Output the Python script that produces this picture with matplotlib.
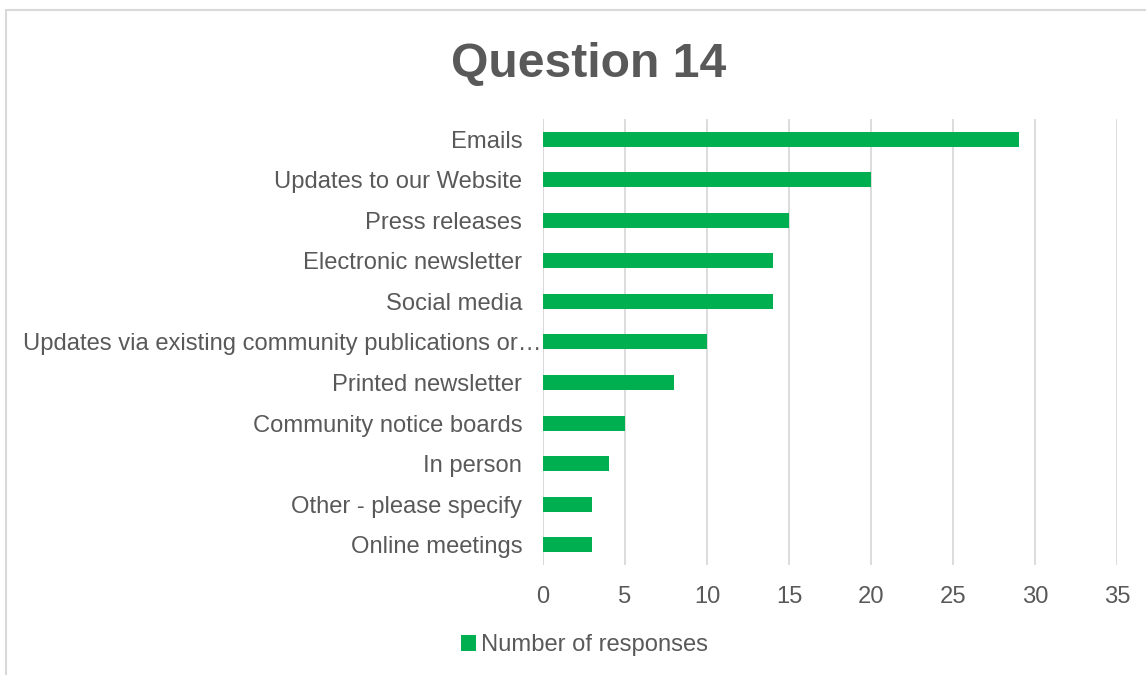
import matplotlib
matplotlib.use("Agg")
import matplotlib.pyplot as plt
import matplotlib.transforms as mtransforms
from matplotlib.patches import Rectangle

plt.rcParams['font.family'] = ['Liberation Sans', 'DejaVu Sans']

categories = [
    "Emails",
    "Updates to our Website",
    "Press releases",
    "Electronic newsletter",
    "Social media",
    "Updates via existing community publications or\u2026",
    "Printed newsletter",
    "Community notice boards",
    "In person",
    "Other - please specify",
    "Online meetings",
]
responses = [29, 20, 15, 14, 14, 10, 8, 5, 4, 3, 3]
x_ticks = [0, 5, 10, 15, 20, 25, 30, 35]

text_col = "#595959"
grid_col = "#D9D9D9"
bar_col = "#00B050"

fig = plt.figure(figsize=(11.46, 6.75), dpi=100)
ax = fig.add_axes([0.4738, 0.163, 0.5009, 0.661])

# chart border like the Excel chart area
fig.patches.append(Rectangle((0.0055, -0.01), 1.2, 0.9955, transform=fig.transFigure,
                             fill=False, edgecolor=grid_col, linewidth=1.5))

pos = list(range(len(categories)))[::-1]
ax.barh(pos, responses, height=0.37, color=bar_col, label="Number of responses", zorder=3)

ax.set_xlim(0, 35)
ax.set_ylim(-0.5, len(categories) - 0.5)
ax.set_xticks(x_ticks)
ax.set_xticklabels([str(t) for t in x_ticks])
ax.set_yticks(pos)
ax.set_yticklabels(categories)
ax.xaxis.grid(True, color=grid_col, linewidth=1.3, zorder=0)
ax.axvline(0, color=grid_col, linewidth=1.3, zorder=1)
for s in ax.spines.values():
    s.set_visible(False)
ax.tick_params(axis='both', length=0, labelsize=17.1, colors=text_col)
ax.tick_params(axis='x', pad=15)
ax.tick_params(axis='y', pad=15)

# the truncated long label runs up to the axis in the original
for lbl in ax.get_yticklabels():
    if lbl.get_text().endswith("\u2026"):
        lbl.set_transform(lbl.get_transform() +
                          mtransforms.ScaledTranslation(19 / 100, 0, fig.dpi_scale_trans))

fig.text(0.5135, 0.905, "Question 14", ha='center', va='center', fontsize=34.6,
         fontweight='bold', color=text_col)

leg = fig.legend(loc='center', bbox_to_anchor=(0.51, 0.044), frameon=False,
                 fontsize=17.1, handlelength=0.65, handleheight=0.65, handletextpad=0.2)
for t in leg.get_texts():
    t.set_color(text_col)

fig.savefig("out.png", dpi=100)
